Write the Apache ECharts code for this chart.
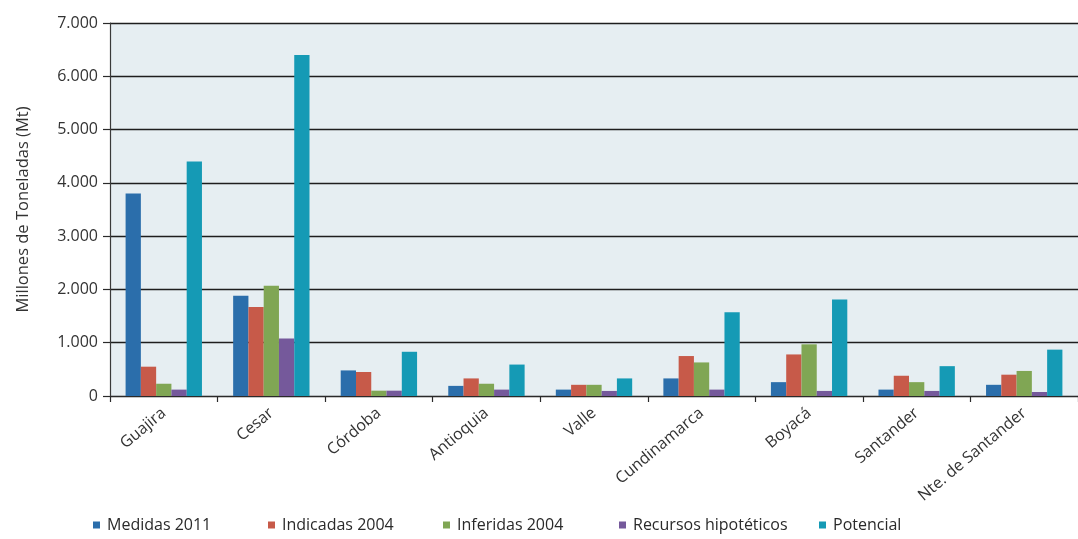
<!DOCTYPE html>
<html>
<head>
<meta charset="utf-8">
<script src="https://cdn.jsdelivr.net/npm/echarts@6/dist/echarts.min.js"></script>
<style>
  html, body { margin: 0; padding: 0; background: #ffffff; }
  #chart { width: 1078px; height: 539px; }
</style>
</head>
<body>
<div id="chart"></div>
<script>
// Departamentos y recursos de carbón (millones de toneladas)
const departamentos = ['Guajira', 'Cesar', 'Córdoba', 'Antioquia', 'Valle', 'Cundinamarca', 'Boyacá', 'Santander', 'Nte. de Santander'];
const medidas2011   = [3800, 1880, 480, 190, 120, 330, 260, 120, 210];
const indicadas2004 = [550, 1670, 450, 330, 210, 750, 780, 380, 400];
const inferidas2004 = [230, 2070, 100, 230, 210, 630, 970, 260, 470];
const hipoteticos   = [120, 1080, 100, 120, 95, 120, 95, 95, 75];
const potencial     = [4400, 6400, 830, 590, 330, 1570, 1810, 560, 870];

const serieNombres = ['Medidas 2011', 'Indicadas 2004', 'Inferidas 2004', 'Recursos hipotéticos', 'Potencial'];
const serieDatos = [medidas2011, indicadas2004, inferidas2004, hipoteticos, potencial];
const serieColores = ['#2b6eab', '#c75a49', '#80a654', '#75599b', '#159ab5'];
const ticksY = [0, 1000, 2000, 3000, 4000, 5000, 6000, 7000];

const FONT = "'Open Sans', 'Noto Sans', sans-serif";
const legendLeft = [93, 268, 443, 619, 819];

const chart = echarts.init(document.getElementById('chart'), null, { renderer: 'canvas' });

const fmtMiles = v => String(v).replace(/\B(?=(\d{3})+(?!\d))/g, '.');

chart.setOption({
  animation: false,
  backgroundColor: '#ffffff',
  textStyle: { fontFamily: FONT },
  grid: {
    left: 110, top: 23, width: 979, height: 373,
    show: true, backgroundColor: '#e6eef2', borderWidth: 0
  },
  legend: serieNombres.map((n, i) => ({
    data: [n],
    left: legendLeft[i],
    top: 517,
    itemWidth: 7,
    itemHeight: 7,
    itemGap: 0,
    padding: 0,
    icon: 'rect',
    selectedMode: false,
    textStyle: { fontFamily: FONT, fontSize: 16, color: '#2a2a2a', padding: [0, 0, 0, 2] }
  })),
  xAxis: {
    type: 'category',
    data: departamentos,
    boundaryGap: true,
    axisLine: { lineStyle: { color: '#2a2a2a', width: 1.2 } },
    axisTick: { show: true, length: 6, lineStyle: { color: '#2a2a2a', width: 1.2 } },
    axisLabel: {
      rotate: 40, margin: 15, interval: 0,
      fontFamily: FONT, fontSize: 16, color: '#333333'
    }
  },
  yAxis: {
    type: 'value',
    min: 0, max: 7000, interval: 1000,
    name: 'Millones de Toneladas (Mt)',
    nameLocation: 'middle',
    nameGap: 78,
    nameTextStyle: { fontFamily: FONT, fontSize: 16.5, color: '#333333' },
    axisLine: { show: true, lineStyle: { color: '#3a3a3a', width: 1.2 } },
    axisTick: { show: true, length: 7, lineStyle: { color: '#2a2a2a', width: 1.2 } },
    axisLabel: {
      margin: 12, fontFamily: FONT, fontSize: 16, color: '#333333',
      formatter: v => ticksY.includes(v) ? fmtMiles(v) : ''
    },
    splitLine: { show: true, lineStyle: { color: '#1e1e1e', width: 1.4 } }
  },
  series: serieNombres.map((n, i) => ({
    name: n,
    type: 'bar',
    data: serieDatos[i],
    barGap: '0%',
    barCategoryGap: '29%',
    itemStyle: { color: serieColores[i] },
    z: 3
  }))
});
</script>
</body>
</html>
